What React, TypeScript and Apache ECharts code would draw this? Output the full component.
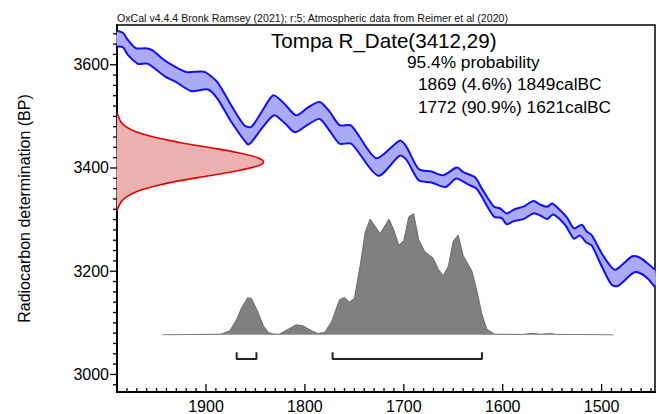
import React, { useEffect, useRef } from "react";
import * as echarts from "echarts";

const FONT = '"Liberation Sans", Arial, sans-serif';

const captionText =
  "OxCal v4.4.4 Bronk Ramsey (2021); r:5; Atmospheric data from Reimer et al (2020)";
const titleText = "Tompa R_Date(3412,29)";
const probLines = ["95.4% probability", "1869 (4.6%) 1849calBC", "1772 (90.9%) 1621calBC"];
const yAxisName = "Radiocarbon determination (BP)";

// Calibration curve (IntCal20) band: upper and lower edges, [calBC, BP]
const calUpper: [number, number][] = [
  [1990, 3666], [1984, 3662], [1979, 3648], [1971, 3632], [1961, 3632], [1954, 3628],
  [1945, 3613], [1935, 3600], [1920, 3586], [1905, 3587], [1900, 3585], [1888, 3565],
  [1875, 3523], [1861, 3482], [1854, 3480], [1844, 3508], [1832, 3541], [1821, 3525],
  [1809, 3502], [1797, 3517], [1785, 3528], [1775, 3509], [1765, 3483], [1753, 3482],
  [1728, 3419], [1704, 3453], [1697, 3440], [1685, 3398], [1672, 3393], [1660, 3386],
  [1648, 3400], [1645, 3400], [1640, 3392], [1628, 3382], [1621, 3360], [1609, 3325],
  [1603, 3322], [1596, 3312], [1588, 3320], [1579, 3325], [1569, 3336], [1562, 3329],
  [1555, 3325], [1550, 3331], [1544, 3322], [1535, 3304], [1528, 3283], [1520, 3290],
  [1515, 3277], [1510, 3270], [1500, 3235], [1491, 3210], [1486, 3203], [1479, 3213],
  [1469, 3229], [1462, 3227], [1454, 3216], [1446, 3203],
];
const calLower: [number, number][] = [
  [1990, 3635], [1984, 3634], [1979, 3619], [1969, 3602], [1959, 3602], [1942, 3578],
  [1929, 3565], [1915, 3549], [1898, 3552], [1888, 3533], [1875, 3491], [1858, 3446],
  [1854, 3450], [1843, 3478], [1831, 3502], [1820, 3486], [1810, 3469], [1797, 3484],
  [1785, 3495], [1775, 3472], [1765, 3447], [1753, 3447], [1726, 3385], [1704, 3424],
  [1697, 3415], [1685, 3376], [1672, 3372], [1658, 3363], [1648, 3379], [1645, 3379],
  [1635, 3368], [1626, 3359], [1609, 3306], [1601, 3303], [1596, 3291], [1589, 3297],
  [1579, 3301], [1569, 3312], [1562, 3308], [1555, 3301], [1549, 3310], [1537, 3290],
  [1528, 3263], [1522, 3269], [1515, 3255], [1510, 3250], [1500, 3210], [1490, 3174],
  [1484, 3171], [1479, 3178], [1468, 3197], [1462, 3197], [1454, 3187], [1446, 3169],
];

// Radiocarbon measurement 3412 +/- 29 BP: relative density per BP
const dateBP = [
  3318, 3335, 3345, 3355, 3365, 3375, 3385, 3395, 3405, 3412, 3420, 3430, 3440, 3450,
  3460, 3470, 3480, 3490, 3500, 3506,
];
const dateDensity = [
  0, 0.03, 0.07, 0.14, 0.26, 0.42, 0.63, 0.83, 0.97, 1, 0.96, 0.82, 0.62, 0.42, 0.25,
  0.13, 0.06, 0.025, 0.01, 0,
];

// Calibrated probability distribution (relative)
const postYears = [
  1944, 1885, 1876, 1869, 1864, 1858, 1854, 1848, 1842, 1837, 1831, 1826, 1817, 1809,
  1802, 1793, 1787, 1780, 1773, 1765, 1760, 1755, 1750, 1744, 1739, 1734, 1724, 1715,
  1710, 1705, 1700, 1695, 1690, 1685, 1679, 1670, 1665, 1660, 1655, 1650, 1645, 1640,
  1631, 1626, 1621, 1616, 1608, 1580, 1570, 1562, 1552, 1545, 1488,
];
const postProb = [
  0, 0.005, 0.033, 0.128, 0.224, 0.306, 0.3, 0.197, 0.074, 0.019, 0.005, 0.005, 0.046,
  0.082, 0.074, 0.033, 0.011, 0.019, 0.11, 0.29, 0.31, 0.27, 0.3, 0.58, 0.85, 0.956,
  0.836, 0.956, 0.866, 0.74, 0.78, 0.975, 1, 0.79, 0.69, 0.63, 0.54, 0.49, 0.566, 0.775,
  0.825, 0.656, 0.525, 0.36, 0.17, 0.046, 0.005, 0.003, 0.012, 0.004, 0.01, 0.003, 0,
];

// 95.4% ranges
const rangeStart = [1869, 1772];
const rangeEnd = [1849, 1621];

const xTicks = [1900, 1800, 1700, 1600, 1500];
const yTicks = [3000, 3200, 3400, 3600];

const X_MIN = 1446;
const X_MAX = 1990;
const Y_MIN = 2966;
const Y_MAX = 3677;

const xMinor: number[] = [];
for (let v = 1450; v <= 1980; v += 10) if (v % 100 !== 0) xMinor.push(v);
const yMinor: number[] = [];
for (let v = 2980; v <= 3660; v += 20) if (v % 200 !== 0) yMinor.push(v);

const BR_TOP = -0.145;
const BR_BOT = -0.2;

function tickSeries(values: number[], dir: "x" | "y", len: number) {
  return {
    type: "custom",
    xAxisIndex: 0,
    yAxisIndex: 0,
    silent: true,
    clip: false,
    z: 6,
    data: values.map((v) => (dir === "x" ? [v, Y_MIN] : [X_MAX, v])),
    renderItem: (params: any, api: any) => {
      const p = api.coord([api.value(0), api.value(1)]);
      const shape =
        dir === "x"
          ? { x1: p[0], y1: p[1], x2: p[0], y2: p[1] - len }
          : { x1: p[0], y1: p[1], x2: p[0] - len, y2: p[1] };
      return { type: "line", shape, style: { stroke: "#000", lineWidth: 1.3 } };
    },
  };
}

export default function App() {
  const ref = useRef<HTMLDivElement>(null);

  useEffect(() => {
    if (!ref.current) return;
    const chart = echarts.init(ref.current, undefined, { renderer: "svg" });

    const bandRender = (params: any, api: any) => {
      if (params.dataIndex !== 0) return { type: "group", children: [] };
      const up = calUpper.map((p) => api.coord(p));
      const lo = calLower.map((p) => api.coord(p));
      const poly = up.concat(lo.slice().reverse());
      return {
        type: "group",
        children: [
          { type: "polygon", shape: { points: poly, smooth: 0.25 }, style: { fill: "#aaaaf6", stroke: "none" } },
          { type: "polyline", shape: { points: up, smooth: 0.25 }, style: { fill: "none", stroke: "#1010f5", lineWidth: 2 } },
          { type: "polyline", shape: { points: lo, smooth: 0.25 }, style: { fill: "none", stroke: "#1010f5", lineWidth: 2 } },
        ],
      };
    };

    const datePts = dateBP.map((bp, i) => [dateDensity[i], bp]);
    const dateRender = (params: any, api: any) => {
      if (params.dataIndex !== 0) return { type: "group", children: [] };
      const pts = datePts.map((p) => api.coord(p));
      return {
        type: "group",
        children: [
          { type: "polygon", shape: { points: pts, smooth: 0.3 }, style: { fill: "#ebb1b1", stroke: "none" } },
          { type: "polyline", shape: { points: pts, smooth: 0.3 }, style: { fill: "none", stroke: "#e00000", lineWidth: 1.6 } },
        ],
      };
    };

    const bracketSeries = rangeStart.map((s, i) => ({
      type: "line",
      xAxisIndex: 0,
      yAxisIndex: 1,
      symbol: "none",
      silent: true,
      lineStyle: { color: "#222", width: 2 },
      data: [
        [s, BR_TOP],
        [s, BR_BOT],
        [rangeEnd[i], BR_BOT],
        [rangeEnd[i], BR_TOP],
      ],
      z: 5,
    }));

    const option: any = {
      animation: false,
      backgroundColor: "#fff",
      grid: {
        left: 117,
        right: 4,
        top: 25,
        bottom: 19,
        show: true,
        borderColor: "#000",
        borderWidth: 1.5,
        containLabel: false,
      },
      xAxis: [
        {
          type: "value",
          min: X_MIN,
          max: X_MAX,
          inverse: true,
          position: "bottom",
          axisLine: { show: true, onZero: false, lineStyle: { color: "#000", width: 2 } },
          axisTick: { show: false },
          axisLabel: {
            customValues: xTicks,
            color: "#000",
            fontSize: 16,
            fontFamily: FONT,
            margin: 6,
            formatter: (v: number) => String(v),
          },
          splitLine: { show: false },
        },
        {
          type: "value",
          min: 0,
          max: 3.67,
          show: false,
          position: "top",
          axisLine: { onZero: false },
        },
      ],
      yAxis: [
        {
          type: "value",
          min: Y_MIN,
          max: Y_MAX,
          position: "left",
          name: yAxisName,
          nameLocation: "middle",
          nameGap: 85,
          nameTextStyle: { color: "#000", fontSize: 16, fontFamily: FONT },
          axisLine: { show: true, onZero: false, lineStyle: { color: "#000", width: 2 } },
          axisTick: { show: false },
          axisLabel: {
            customValues: yTicks,
            color: "#000",
            fontSize: 16,
            fontFamily: FONT,
            margin: 8,
            formatter: (v: number) => String(v),
          },
          splitLine: { show: false },
        },
        {
          type: "value",
          min: -0.473,
          max: 2.56,
          show: false,
          position: "right",
          axisLine: { onZero: false },
          splitLine: { show: false },
        },
      ],
      series: [
        {
          type: "custom",
          xAxisIndex: 0,
          yAxisIndex: 0,
          renderItem: bandRender,
          data: calUpper,
          silent: true,
          z: 3,
        },
        {
          type: "custom",
          xAxisIndex: 1,
          yAxisIndex: 0,
          renderItem: dateRender,
          data: datePts,
          silent: true,
          z: 3,
        },
        {
          type: "line",
          xAxisIndex: 0,
          yAxisIndex: 1,
          symbol: "none",
          silent: true,
          data: postYears.map((y, i) => [y, postProb[i]]),
          lineStyle: { color: "#5a5a5a", width: 0.8 },
          areaStyle: { color: "#808080", opacity: 1 },
          z: 3,
        },
        ...bracketSeries,
        tickSeries(xTicks, "x", 8),
        tickSeries(xMinor, "x", 4),
        tickSeries(yTicks, "y", 7),
        tickSeries(yMinor, "y", 4),
      ],
      graphic: [
        { type: "text", x: 117, y: 18, style: { text: captionText, font: `10.6px ${FONT}`, fill: "#111", verticalAlign: "middle" } },
        { type: "text", x: 271, y: 40, style: { text: titleText, font: `20.6px ${FONT}`, fill: "#000", verticalAlign: "middle" } },
        { type: "text", x: 407, y: 62, style: { text: probLines[0], font: `17.3px ${FONT}`, fill: "#000", verticalAlign: "middle" } },
        { type: "text", x: 418, y: 84, style: { text: probLines[1], font: `17.3px ${FONT}`, fill: "#000", verticalAlign: "middle" } },
        { type: "text", x: 418, y: 107, style: { text: probLines[2], font: `17.3px ${FONT}`, fill: "#000", verticalAlign: "middle" } },
      ],
    };

    chart.setOption(option);
    return () => chart.dispose();
  }, []);

  return (
    <div
      ref={ref}
      style={{ position: "absolute", left: 0, top: 0, width: 659, height: 414, background: "#fff" }}
    />
  );
}
